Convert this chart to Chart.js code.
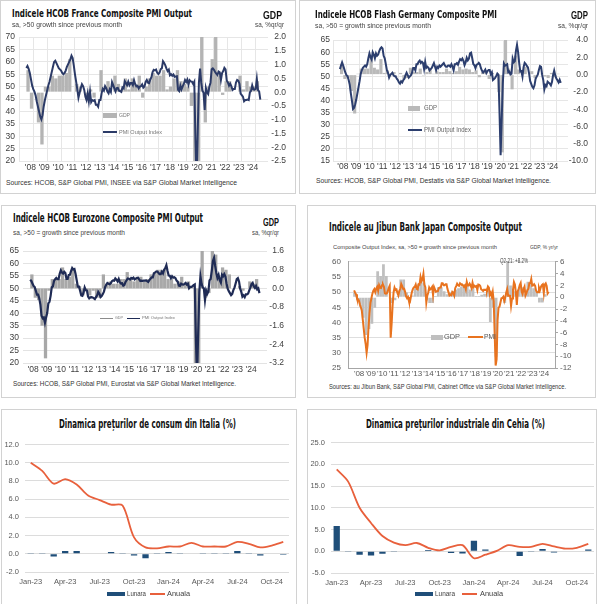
<!DOCTYPE html>
<html>
<head>
<meta charset="utf-8">
<script src="https://cdn.jsdelivr.net/npm/chart.js@4.4.1/dist/chart.umd.min.js"></script>
<style>
  html, body { margin: 0; padding: 0; background: #fff; }
  body { position: relative; width: 600px; height: 604px; overflow: hidden; font-family: "Liberation Sans", Arial, sans-serif; color: #333; }
  .panel { position: absolute; border: 1px solid #d2d2d2; box-sizing: border-box; }
  .t { position: absolute; white-space: nowrap; line-height: 1; transform-origin: 0 0; }
  .ttl { font-family: "Liberation Sans Narrow", "DejaVu Sans Condensed", "Liberation Sans", sans-serif; font-weight: bold; color: #111; }
  .b { font-weight: bold; color: #111; }
  .g { color: #444; }
  .sw { position: absolute; }
  canvas { position: absolute; }
</style>
</head>
<body>
<div class="panel" style="left:0;top:0;width:296px;height:194px"></div>
<div class="panel" style="left:299px;top:0;width:297px;height:194px"></div>
<div class="panel" style="left:1px;top:205px;width:295px;height:193px"></div>
<div class="panel" style="left:307px;top:205px;width:289px;height:193px"></div>
<div class="panel" style="left:1px;top:409px;width:296px;height:196px"></div>
<div class="panel" style="left:307px;top:409px;width:290px;height:196px"></div>

<canvas id="fr"></canvas>
<canvas id="de"></canvas>
<canvas id="ez"></canvas>
<canvas id="jp"></canvas>
<canvas id="it"></canvas>
<canvas id="cz"></canvas>

<!-- France -->
<div class="t ttl" style="left:12px;top:7.5px;font-size:11px" data-w="180">Indicele HCOB France Composite PMI Output</div>
<div class="t g" style="left:12px;top:20.5px;font-size:7px" data-w="110">sa, &gt;50 growth since previous month</div>
<div class="t b" style="left:263px;top:11px;font-size:10px" data-w="19">GDP</div>
<div class="t g" style="left:255px;top:20.5px;font-size:7px" data-w="29">sa, %qr/qr</div>
<div class="t" style="left:6px;top:178.5px;font-size:7px" data-w="231">Sources: HCOB, S&amp;P Global PMI, INSEE via S&amp;P Global Market Intelligence</div>
<div class="sw" style="left:103px;top:113px;width:14px;height:5px;background:#b4b4b4"></div>
<div class="t" style="left:119px;top:112px;font-size:6px;color:#777" data-w="11">GDP</div>
<div class="sw" style="left:103px;top:131px;width:14px;height:2px;background:#2b3a67"></div>
<div class="t" style="left:119px;top:129px;font-size:6px;color:#777" data-w="43">PMI Output Index</div>

<!-- Germany -->
<div class="t ttl" style="left:315px;top:8.5px;font-size:11px" data-w="182">Indicele HCOB Flash Germany Composite PMI</div>
<div class="t g" style="left:315px;top:21.5px;font-size:7px" data-w="116">sa, &gt;50 = growth since previous month</div>
<div class="t b" style="left:571px;top:11px;font-size:10px" data-w="17">GDP</div>
<div class="t g" style="left:558px;top:21.5px;font-size:7px" data-w="30">sa, %qr/qr</div>
<div class="t" style="left:316px;top:176.5px;font-size:7px" data-w="235">Sources: HCOB, S&amp;P Global PMI, Destatis via S&amp;P Global Market Intelligence.</div>
<div class="sw" style="left:408px;top:106px;width:12px;height:5px;background:#b9b9b9"></div>
<div class="t" style="left:424px;top:105px;font-size:6.5px;color:#666" data-w="13">GDP</div>
<div class="sw" style="left:408px;top:129px;width:14px;height:2px;background:#2c3e6e"></div>
<div class="t" style="left:424px;top:127px;font-size:6.5px;color:#666" data-w="47">PMI Output Index</div>

<!-- Eurozone -->
<div class="t ttl" style="left:13px;top:213.25px;font-size:11.5px" data-w="190">Indicele HCOB Eurozone Composite PMI Output</div>
<div class="t g" style="left:13px;top:228.5px;font-size:7px" data-w="112">sa, &gt;50 = growth since previous month</div>
<div class="t b" style="left:263px;top:218px;font-size:10px" data-w="16">GDP</div>
<div class="t g" style="left:252px;top:228.5px;font-size:7px" data-w="27">sa, %qr/qr</div>
<div class="t" style="left:13px;top:379.5px;font-size:7px" data-w="223">Sources: HCOB, S&amp;P Global PMI, Eurostat via S&amp;P Global Market Intelligence.</div>
<div class="sw" style="left:100px;top:317.5px;width:13px;height:1.5px;background:#8c8c8c"></div>
<div class="t" style="left:115px;top:316px;font-size:4px;color:#777" data-w="8">GDP</div>
<div class="sw" style="left:127px;top:317.5px;width:13px;height:1.5px;background:#1f2b55"></div>
<div class="t" style="left:142px;top:316px;font-size:4px;color:#777" data-w="33">PMI Output Index</div>

<!-- Japan -->
<div class="t ttl" style="left:329px;top:221px;font-size:12px" data-w="193">Indicele au Jibun Bank Japan Composite Output</div>
<div class="t g" style="left:333px;top:244px;font-size:6px" data-w="164">Composite Output Index, sa, &gt;50 = growth since previous month</div>
<div class="t g" style="left:530px;top:244px;font-size:6px" data-w="28">GDP, % yr/yr</div>
<div class="t g" style="left:500px;top:257.75px;font-size:6.5px" data-w="28">Q2-21: +8.2%</div>
<div class="sw" style="left:431px;top:334.5px;width:12px;height:5px;background:#bfbfbf"></div>
<div class="t" style="left:444px;top:333.25px;font-size:7.5px;color:#595959" data-w="16">GDP</div>
<div class="sw" style="left:468px;top:336.25px;width:15px;height:1.5px;background:#e8731f"></div>
<div class="t" style="left:484px;top:333.25px;font-size:7.5px;color:#595959" data-w="12">PMI</div>
<div class="t" style="left:329px;top:383.75px;font-size:6.5px" data-w="237">Sources: au Jibun Bank, S&amp;P Global PMI, Cabinet Office via S&amp;P Global Market Intelligence.</div>

<!-- Italy -->
<div class="t ttl" style="left:59px;top:418px;font-size:12px" data-w="177">Dinamica prețurilor de consum din Italia (%)</div>
<div class="sw" style="left:107px;top:592px;width:18px;height:4px;background:#1f4e79"></div>
<div class="t" style="left:127px;top:590.25px;font-size:7.5px;color:#404040" data-w="19">Lunara</div>
<div class="sw" style="left:150px;top:593.25px;width:15px;height:1.5px;background:#e8603c"></div>
<div class="t" style="left:167px;top:590.25px;font-size:7.5px;color:#404040" data-w="23">Anuala</div>

<!-- Czech -->
<div class="t ttl" style="left:366px;top:418px;font-size:12px" data-w="179">Dinamica prețurilor industriale din Cehia (%)</div>
<div class="sw" style="left:415px;top:592px;width:18px;height:4px;background:#1f4e79"></div>
<div class="t" style="left:435px;top:590.25px;font-size:7.5px;color:#404040" data-w="20">Lunara</div>
<div class="sw" style="left:462px;top:593.25px;width:15px;height:1.5px;background:#e8603c"></div>
<div class="t" style="left:480px;top:590.25px;font-size:7.5px;color:#404040" data-w="23">Anuala</div>

<script>
// axis labels
const yearTicks = [2008, 2009, 2010, 2011, 2012, 2013, 2014, 2015, 2016, 2017, 2018, 2019, 2020, 2021, 2022, 2023, 2024];
const yearLabels = ["'08", "'09", "'10", "'11", "'12", "'13", "'14", "'15", "'16", "'17", "'18", "'19", "'20", "'21", "'22", "'23", "'24"];
const monthLabels = ['Jan-23', 'Feb-23', 'Mar-23', 'Apr-23', 'May-23', 'Jun-23', 'Jul-23', 'Aug-23', 'Sep-23', 'Oct-23', 'Nov-23', 'Dec-23',
  'Jan-24', 'Feb-24', 'Mar-24', 'Apr-24', 'May-24', 'Jun-24', 'Jul-24', 'Aug-24', 'Sep-24', 'Oct-24', 'Nov-24'];

// monthly PMI, Jan 2008 - Nov 2024
const frPmi = [
  57.5, 58.3, 57.2, 55.5, 53.0, 50.5, 49.0, 48.0, 46.5, 44.0, 42.0, 40.0,
  38.0, 36.8, 38.5, 42.0, 44.5, 46.5, 48.5, 50.5, 52.0, 54.0, 56.0, 58.0,
  60.0, 60.5, 59.5, 58.5, 57.5, 57.0, 56.5, 55.5, 55.0, 55.5, 56.5, 58.0,
  59.0, 60.0, 61.0, 62.5, 61.5, 58.5, 55.0, 52.0, 49.0, 45.5, 47.5, 49.5,
  51.0, 50.2, 48.7, 45.9, 44.6, 47.3, 44.1, 48.0, 43.8, 44.6, 44.3, 44.6,
  42.7, 42.7, 41.9, 44.6, 44.6, 47.4, 49.1, 48.4, 50.2, 49.4, 48.0, 47.3,
  48.9, 47.9, 51.8, 50.6, 49.3, 48.1, 49.4, 49.5, 48.4, 48.2, 47.9, 49.7,
  49.3, 52.2, 51.5, 50.6, 52.0, 50.6, 51.5, 51.5, 50.6, 52.6, 51.0, 50.1,
  50.3, 49.3, 50.0, 50.2, 50.9, 49.6, 50.1, 51.9, 52.7, 51.6, 51.4, 52.9,
  53.8, 55.9, 56.8, 56.6, 56.9, 55.6, 55.1, 55.6, 57.1, 57.4, 60.3, 59.6,
  58.6, 57.3, 56.3, 56.9, 54.6, 55.0, 54.4, 54.9, 54.0, 54.1, 54.2, 48.7,
  48.2, 50.4, 48.9, 50.1, 51.2, 52.7, 51.9, 52.9, 50.8, 52.6, 52.1, 52.0,
  51.1, 52.0, 28.9, 11.1, 32.1, 51.7, 57.3, 51.6, 48.5, 47.5, 40.6, 49.5,
  47.7, 47.0, 50.0, 51.6, 57.0, 57.4, 56.8, 55.9, 55.3, 54.7, 56.1, 55.8,
  52.7, 55.5, 56.3, 57.6, 57.0, 52.5, 51.7, 50.4, 51.2, 50.2, 48.7, 49.1,
  49.1, 51.7, 52.7, 52.4, 51.2, 47.2, 46.6, 46.0, 44.1, 44.6, 44.6, 44.8,
  44.6, 47.7, 48.3, 50.5, 48.9, 48.8, 49.1, 53.1, 48.6, 48.1, 44.8
];
const dePmi = [
  53.0, 54.5, 55.8, 54.5, 53.0, 51.5, 50.5, 50.0, 48.5, 46.5, 43.0, 40.0,
  36.5, 37.0, 38.5, 40.5, 43.0, 45.5, 48.0, 51.0, 52.5, 53.5, 54.0, 54.5,
  54.0, 55.0, 57.5, 59.5, 58.0, 57.0, 60.0, 59.0, 57.5, 59.5, 58.5, 59.0,
  60.5, 61.5, 62.0, 61.5, 58.5, 57.5, 55.0, 52.5, 51.5, 49.5, 50.5, 51.0,
  51.5, 50.5, 50.0, 50.0, 49.0, 48.5, 47.5, 47.0, 48.0, 47.5, 48.5, 49.0,
  50.5, 51.5, 50.5, 49.5, 50.0, 50.5, 51.5, 53.5, 53.5, 52.5, 55.0, 55.0,
  56.0, 56.5, 55.5, 56.0, 55.5, 53.0, 56.0, 53.5, 54.0, 53.5, 52.5, 53.0,
  53.5, 54.5, 55.5, 54.0, 52.5, 54.0, 53.5, 54.5, 54.0, 54.5, 55.0, 55.5,
  54.5, 54.0, 54.0, 54.5, 54.5, 54.0, 55.0, 54.0, 52.5, 55.0, 55.0, 55.5,
  54.8, 56.1, 57.1, 56.7, 57.4, 56.4, 54.7, 55.8, 57.7, 56.6, 57.3, 59.5,
  59.8, 57.6, 55.1, 54.6, 53.4, 54.8, 55.0, 55.6, 55.0, 53.4, 52.3, 51.6,
  52.1, 52.8, 51.4, 52.2, 52.6, 52.6, 50.9, 51.7, 48.5, 48.9, 49.4, 50.2,
  51.2, 50.7, 35.0, 17.4, 32.3, 47.0, 55.3, 54.4, 54.7, 55.0, 51.7, 52.0,
  50.8, 51.1, 57.3, 55.8, 56.2, 60.5, 63.0, 60.0, 55.5, 52.0, 52.2, 49.9,
  53.8, 55.6, 55.1, 54.3, 53.7, 51.3, 48.1, 46.9, 45.7, 45.1, 46.3, 49.0,
  49.9, 50.7, 52.6, 54.2, 53.9, 50.6, 48.5, 44.6, 46.4, 45.9, 47.8, 47.4,
  47.0, 46.3, 47.7, 50.6, 52.4, 50.4, 49.1, 48.4, 47.5, 48.6, 47.3
];
const ezPmi = [
  53.5, 53.0, 52.0, 51.0, 50.5, 49.0, 47.5, 47.5, 46.0, 43.5, 39.0, 38.0,
  38.3, 36.2, 38.3, 40.1, 44.0, 44.6, 47.0, 50.4, 50.8, 53.0, 53.7, 54.2,
  53.7, 53.7, 55.9, 57.3, 56.4, 56.0, 56.7, 56.2, 53.8, 53.8, 55.4, 55.5,
  57.0, 58.2, 57.6, 57.8, 55.8, 53.3, 50.7, 50.7, 49.1, 47.2, 47.0, 48.3,
  50.4, 49.3, 49.1, 46.7, 46.0, 46.4, 46.5, 46.3, 46.1, 45.7, 46.5, 47.2,
  48.6, 47.9, 46.5, 46.9, 47.7, 48.7, 50.5, 51.5, 52.2, 51.9, 51.7, 52.1,
  52.9, 53.2, 53.1, 54.0, 53.5, 52.8, 53.8, 52.5, 52.0, 52.1, 51.1, 51.4,
  52.6, 53.3, 54.0, 53.9, 53.6, 54.2, 53.9, 54.3, 53.6, 53.9, 54.2, 54.3,
  53.6, 53.0, 53.1, 53.0, 53.1, 53.1, 53.2, 52.9, 52.6, 53.3, 53.9, 54.4,
  54.4, 56.0, 56.4, 56.8, 56.8, 56.3, 55.7, 55.7, 56.7, 56.0, 57.5, 58.1,
  59.3, 57.1, 55.2, 55.1, 54.1, 54.9, 54.3, 54.5, 54.1, 53.1, 52.7, 51.1,
  51.0, 51.9, 51.6, 51.5, 51.8, 52.2, 51.5, 51.9, 50.1, 50.6, 50.6, 50.9,
  51.3, 51.6, 29.7, 13.6, 31.9, 48.5, 54.9, 51.9, 50.4, 50.0, 45.3, 49.1,
  47.8, 48.8, 53.2, 53.8, 57.1, 61.0, 62.3, 59.0, 56.2, 54.2, 55.4, 53.3,
  52.3, 55.5, 54.9, 55.8, 54.8, 52.0, 49.9, 48.9, 48.1, 47.3, 47.8, 49.3,
  50.3, 52.0, 53.7, 54.1, 52.8, 49.9, 48.6, 46.7, 47.2, 46.5, 47.6, 47.6,
  47.9, 49.2, 50.3, 51.7, 52.2, 50.9, 50.2, 51.0, 49.6, 50.0, 48.1
];
const jpPmi = [
  50.6, 49.9, 49.3, 48.0, 47.7, 47.2, 46.0, 45.0, 44.0, 41.0, 38.0, 35.0,
  33.0, 30.0, 32.5, 38.5, 43.0, 46.5, 48.0, 49.5, 50.5, 51.0, 50.0, 51.2,
  51.8, 50.5, 52.3, 51.5, 51.4, 52.3, 52.5, 51.8, 49.6, 49.5, 49.6, 50.4,
  51.4, 52.1, 35.0, 39.6, 45.7, 49.9, 51.5, 50.7, 50.9, 49.7, 48.9, 50.4,
  51.1, 52.7, 52.0, 51.0, 51.1, 50.1, 48.6, 48.0, 48.4, 47.0, 46.8, 48.5,
  50.0, 51.0, 51.6, 51.7, 52.5, 51.1, 50.9, 52.6, 52.5, 55.0, 53.6, 54.2,
  56.0, 52.5, 51.6, 46.6, 48.8, 49.8, 51.5, 50.9, 51.2, 51.7, 49.0, 51.7,
  51.7, 50.1, 50.3, 50.3, 51.3, 51.5, 51.5, 52.9, 52.9, 52.3, 52.3, 52.6,
  52.6, 51.0, 50.0, 48.9, 49.2, 49.0, 50.1, 49.8, 48.9, 51.3, 52.0, 52.8,
  52.3, 52.1, 52.9, 52.6, 52.6, 52.3, 51.8, 52.2, 51.0, 53.4, 52.2, 52.2,
  52.8, 52.2, 51.3, 53.1, 51.7, 52.1, 51.8, 52.0, 50.7, 52.5, 52.4, 52.0,
  50.9, 50.7, 50.4, 50.8, 50.7, 50.8, 50.6, 51.9, 51.5, 49.1, 49.8, 48.6,
  50.1, 47.0, 36.2, 25.8, 27.8, 40.8, 44.9, 45.2, 46.6, 48.0, 48.1, 48.5,
  47.1, 48.2, 49.9, 51.0, 48.8, 48.9, 48.8, 45.5, 47.9, 50.7, 53.3, 52.5,
  49.9, 45.8, 50.3, 51.1, 52.3, 53.0, 50.2, 49.4, 51.0, 51.8, 48.9, 49.7,
  50.7, 51.1, 52.9, 52.9, 54.3, 52.1, 52.2, 52.6, 52.1, 50.5, 50.0, 50.0,
  51.5, 50.6, 51.7, 52.3, 52.6, 49.7, 52.5, 52.9, 52.0, 49.6, 50.1
];

// quarterly GDP, Q1 2008 - Q3 2024
const frGdp = [
  0.8, -0.6, 0.0, -1.1,  -1.9, 0.2, 0.2, 0.6,  0.5, 0.6, 0.6, 0.7,  1.2, 0.0, 0.3, 0.2,
  0.0, -0.3, 0.1, -0.2,  0.0, 0.8, 0.0, 0.4,  0.0, 0.6, 0.3, 0.1,  0.5, 0.1, 0.5, 0.3,
  0.6, -0.2, 0.2, 0.5,  0.7, 0.6, 0.6, 0.8,  0.1, 0.2, 0.5, 0.8,  0.4, 0.3, 0.2, -0.5,
  -5.5, -13.5, 18.5, -1.1,  0.2, 1.2, 3.0, 0.6,  -0.1, 0.4, 0.4, 0.0,  0.0, 0.6, 0.1, 0.4,
  0.2, 0.2, 0.4
];
const deGdp = [
  1.2, -0.5, -0.4, -1.9,  -4.5, 0.1, 0.7, 0.7,  0.7, 2.0, 0.8, 0.6,  1.8, 0.2, 0.5, 0.1,
  0.3, 0.0, 0.2, -0.5,  -0.4, 0.8, 0.3, 0.3,  0.7, -0.1, 0.3, 0.7,  0.1, 0.4, 0.3, 0.3,
  0.7, 0.4, 0.2, 0.4,  0.9, 0.6, 0.7, 0.6,  0.3, 0.5, -0.3, 0.3,  0.4, -0.5, 0.2, 0.0,
  -2.0, -9.0, 8.7, 0.7,  -1.7, 2.2, 0.6, 0.0,  0.9, 0.0, 0.4, -0.4,  0.0, 0.1, -0.2, -0.4,
  0.2, -0.3, 0.1
];
const ezGdp = [
  0.6, -0.4, -0.5, -1.6,  -3.0, -0.1, 0.4, 0.4,  0.4, 0.9, 0.4, 0.5,  0.8, 0.2, 0.1, -0.3,
  -0.1, -0.3, -0.1, -0.4,  -0.4, 0.6, 0.2, 0.3,  0.2, 0.2, 0.4, 0.4,  0.7, 0.4, 0.3, 0.5,
  0.5, 0.3, 0.4, 0.6,  0.7, 0.8, 0.8, 0.8,  0.4, 0.4, 0.2, 0.3,  0.5, 0.2, 0.3, 0.1,
  -3.5, -11.2, 12.4, -0.4,  -0.2, 2.2, 1.45, 0.5,  0.9, 0.8, 0.6, 0.0,  0.0, 0.1, -0.1, 0.0,
  0.3, 0.2, 0.4
];
const jpGdp = [
  0.8, -0.5, -1.6, -3.5,  -6.4, -5.4, -4.5, -1.8,  4.4, 3.6, 5.6, 3.6,  0.0, -1.0, -0.5, 0.2,
  3.0, 3.0, 0.8, 0.0,  0.3, 1.5, 2.2, 2.8,  2.5, -0.5, -1.0, -1.0,  0.2, 1.7, 1.7, 1.0,
  0.5, 0.8, 1.0, 1.3,  1.5, 1.8, 2.1, 2.1,  1.3, 1.5, 0.2, 0.2,  0.4, 0.6, 1.4, -4.2,
  -1.8, -10.1, 0.0, 0.0,  -1.0, 8.2, 2.0, 1.0,  0.8, 1.6, 1.7, 0.5,  2.6, 2.2, 1.5, 1.0,
  -0.9, -0.9, 0.5
];

// monthly prices, Jan 2023 - Nov 2024
const itLunara = [0.1, 0.1, -0.3, 0.3, 0.3, 0.0, 0.0, 0.2, 0.1, -0.2, -0.5, 0.1, 0.2, 0.1, 0.0, 0.1, 0.1, 0.1, 0.3, 0.1, -0.2, 0.0, -0.1];
const itAnuala = [10.0, 9.1, 7.7, 8.2, 7.6, 6.4, 5.9, 5.4, 5.3, 1.8, 0.7, 0.6, 0.8, 0.8, 1.2, 0.8, 0.8, 0.8, 1.3, 1.1, 0.7, 0.9, 1.3];
const czLunara = [5.8, -0.2, -0.8, -1.0, -0.6, -0.2, -0.1, 0.1, 0.3, 0.0, -0.4, -0.5, 2.4, 0.4, 0.0, 0.1, -1.1, -0.2, 0.5, -0.3, -0.1, 0.0, 0.4];
const czAnuala = [18.8, 16.0, 10.0, 6.5, 3.5, 2.0, 1.4, 1.9, 0.8, 0.2, 1.0, 1.4, -1.6, -0.8, 0.1, 1.4, 1.0, 1.0, 1.7, 1.1, 0.6, 0.8, 1.7];

Chart.defaults.font.family = "'Liberation Sans', Arial, sans-serif";
Chart.defaults.animation = false;

function place(id, box) {
  const cv = document.getElementById(id);
  cv.width = box.w; cv.height = box.h;
  cv.style.left = box.l + 'px'; cv.style.top = box.t + 'px';
  cv.style.width = box.w + 'px'; cv.style.height = box.h + 'px';
  return cv;
}

function monthlyPoints(vals) {
  return vals.map((v, i) => ({ x: 2008 + i / 12, y: v }));
}
function quarterlyPoints(vals, shift) {
  return vals.map((v, i) => ({ x: 2008 + i / 4 + shift, y: v }));
}
function fmt1(v) { return (Math.abs(v) < 1e-9 ? 0 : v).toFixed(1); }

function pmiChart(id, c) {
  const cv = place(id, c.box);
  const tickFont = { size: c.tick };
  // Japan has a framed plot with outward tick marks on the GDP axis
  const rightGrid = c.axisLine
    ? { drawOnChartArea: false, drawTicks: true, tickLength: 3, color: '#a6a6a6' }
    : { drawOnChartArea: false, drawTicks: false };
  return new Chart(cv, {
    type: 'bar',
    data: {
      datasets: [
        { type: 'line', data: monthlyPoints(c.pmi), yAxisID: 'y', borderColor: c.lineColor,
          borderWidth: c.lineW, pointRadius: 0, tension: 0, order: 0 },
        { type: 'bar', data: quarterlyPoints(c.gdp, c.shift), yAxisID: 'y2', backgroundColor: c.barColor,
          barPercentage: 1, categoryPercentage: 0.96, order: 1 }
      ]
    },
    options: {
      responsive: false,
      events: [],
      layout: { padding: { top: c.topPad, left: 0, right: 0, bottom: 0 } },
      plugins: { legend: { display: false }, tooltip: { enabled: false } },
      scales: {
        x: {
          type: 'linear', min: 2008, max: 2024.86,
          afterFit: s => { s.height = c.xH; },
          afterBuildTicks: s => { s.ticks = yearTicks.map(v => ({ value: v })); },
          ticks: { callback: (v, i) => yearLabels[i], autoSkip: false, maxRotation: 0,
                   labelOffset: c.labelOffset, padding: c.xPad, font: tickFont, color: c.tickColor },
          grid: { display: c.vgrid, color: c.gridColor, drawTicks: false },
          border: { display: c.axisLine, color: '#a6a6a6' }
        },
        y: {
          position: 'left', min: c.yMin, max: c.yMax,
          afterFit: s => { s.width = c.leftW; },
          ticks: { stepSize: c.yStep, autoSkip: false, padding: c.leftPad, font: tickFont, color: c.tickColor },
          grid: { color: c.gridColor, drawTicks: false },
          border: { display: c.axisLine, color: '#a6a6a6' }
        },
        y2: {
          position: 'right', min: c.gMin, max: c.gMax,
          afterFit: s => { s.width = c.rightW; },
          ticks: { stepSize: c.gStep, autoSkip: false, crossAlign: c.gAlign, padding: 2,
                   font: tickFont, color: c.tickColor,
                   callback: v => c.gInt ? String(Math.round(v)) : fmt1(v) },
          grid: rightGrid,
          border: { display: c.axisLine, color: '#a6a6a6' }
        }
      }
    }
  });
}

function priceChart(id, c) {
  const cv = place(id, c.box);
  const tickFont = { size: 7.5 };
  return new Chart(cv, {
    type: 'bar',
    data: {
      labels: monthLabels,
      datasets: [
        { type: 'line', label: 'Anuala', data: c.anuala, borderColor: '#e8603c', borderWidth: 1.8,
          pointRadius: 0, tension: 0.3, order: 0 },
        { type: 'bar', label: 'Lunara', data: c.lunara, backgroundColor: '#1f4e79',
          barPercentage: 0.55, categoryPercentage: 1, order: 1 }
      ]
    },
    options: {
      responsive: false,
      events: [],
      layout: { padding: { top: c.topPad, right: c.rightPad, left: 0, bottom: 0 } },
      plugins: { legend: { display: false }, tooltip: { enabled: false } },
      scales: {
        x: {
          offset: true,
          afterFit: s => { s.height = c.xH; },
          ticks: { autoSkip: false, maxRotation: 0, padding: c.xPad, font: tickFont, color: '#595959',
                   callback: (v, i) => (i % 3 === 0 ? monthLabels[i] : '') },
          grid: { display: false, drawTicks: false },
          border: { display: false }
        },
        y: {
          min: c.yMin, max: c.yMax,
          afterFit: s => { s.width = c.leftW; },
          ticks: { stepSize: c.yStep, autoSkip: false, padding: 6, font: tickFont, color: '#595959', callback: v => fmt1(v) },
          grid: { color: '#dcdcdc', drawTicks: false },
          border: { display: false }
        }
      }
    }
  });
}

pmiChart('fr', {
  box: { l: 0, t: 28, w: 286, h: 149 }, leftW: 19, rightW: 18, topPad: 7, xH: 16,
  pmi: frPmi, gdp: frGdp, shift: 0.125,
  yMin: 20, yMax: 70, yStep: 5, gMin: -2.5, gMax: 2.0, gStep: 0.5, gAlign: 'far',
  lineColor: '#2b3a67', lineW: 2, barColor: '#b4b4b4',
  tick: 8.5, tickColor: '#404040', gridColor: '#e6e6e6', vgrid: true, axisLine: false,
  labelOffset: 4, xPad: 2, leftPad: 4
});
pmiChart('de', {
  box: { l: 305, t: 32, w: 283, h: 145 }, leftW: 28, rightW: 20, topPad: 7, xH: 16,
  pmi: dePmi, gdp: deGdp, shift: 0.125,
  yMin: 15, yMax: 65, yStep: 5, gMin: -10, gMax: 4, gStep: 2, gAlign: 'far',
  lineColor: '#2c3e6e', lineW: 2, barColor: '#b9b9b9',
  tick: 8.5, tickColor: '#404040', gridColor: '#e6e6e6', vgrid: true, axisLine: false,
  labelOffset: 3, xPad: 1, leftPad: 3
});
pmiChart('ez', {
  box: { l: 2, t: 242, w: 282, h: 135 }, leftW: 21, rightW: 17, topPad: 7, xH: 14,
  pmi: ezPmi, gdp: ezGdp, shift: 0.125,
  yMin: 20, yMax: 65, yStep: 5, gMin: -3.2, gMax: 1.6, gStep: 0.8, gAlign: 'far',
  lineColor: '#1f2b55', lineW: 2.2, barColor: '#a8a8a8',
  tick: 8.5, tickColor: '#404040', gridColor: '#e3e3e3', vgrid: false, axisLine: false,
  labelOffset: 3, xPad: 2, leftPad: 4
});
pmiChart('jp', {
  box: { l: 320, t: 250, w: 252, h: 131 }, leftW: 28, rightW: 17, topPad: 7, xH: 13,
  pmi: jpPmi, gdp: jpGdp, shift: 0.04, gInt: true, gAlign: 'near',
  yMin: 25, yMax: 60, yStep: 5, gMin: -12, gMax: 6, gStep: 2,
  lineColor: '#e8731f', lineW: 2, barColor: '#bfbfbf',
  tick: 8, tickColor: '#595959', gridColor: '#dedede', vgrid: false, axisLine: true,
  labelOffset: 5, xPad: 1, leftPad: 7
});
priceChart('it', {
  box: { l: 2, t: 434, w: 293, h: 156 }, leftW: 23, rightPad: 6, topPad: 7, xH: 18, xPad: 5,
  lunara: itLunara, anuala: itAnuala, yMin: -2, yMax: 12, yStep: 2
});
priceChart('cz', {
  box: { l: 308, t: 432, w: 288, h: 158 }, leftW: 23, rightPad: 2, topPad: 7, xH: 17, xPad: 5,
  lunara: czLunara, anuala: czAnuala, yMin: -5, yMax: 25, yStep: 5
});

// squeeze/stretch each text to the width it has in the reference
function fitTexts() {
  document.querySelectorAll('[data-w]').forEach(el => {
    el.style.transform = 'none';
    const w = el.getBoundingClientRect().width;
    if (w > 0) el.style.transform = 'scaleX(' + (parseFloat(el.dataset.w) / w) + ')';
  });
}
fitTexts();
if (document.fonts && document.fonts.ready) document.fonts.ready.then(fitTexts);
</script>
</body>
</html>
